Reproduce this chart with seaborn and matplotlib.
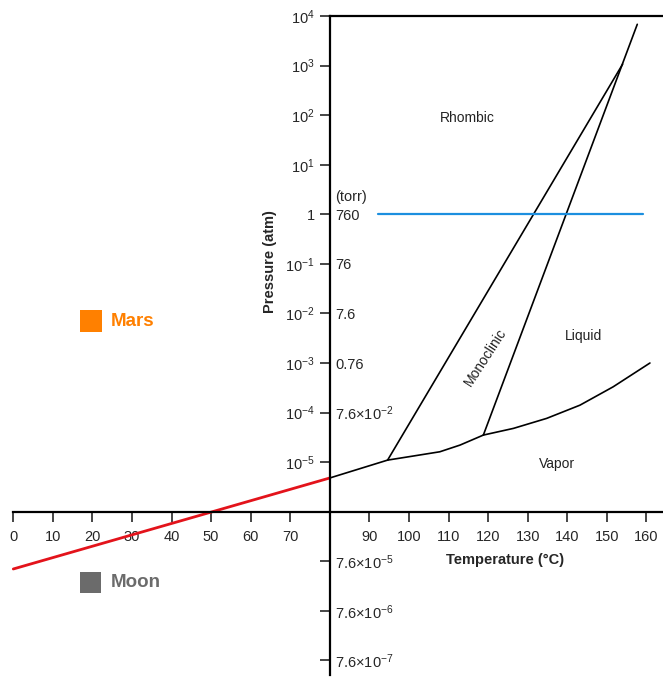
import numpy as np
import pandas as pd
import matplotlib
matplotlib.use("Agg")
import matplotlib.pyplot as plt
from matplotlib.ticker import NullLocator, FixedLocator, FixedFormatter
import seaborn as sns

# ---------------- data (temperatures in °C, pressures in atm) ----------------
red_T = [0, 80]
red_P = [7.0e-8, 4.8e-6]

rv_T = [80, 94.6]                      # rhombic - vapor
rv_P = [4.8e-6, 1.10e-5]

mv_T = [94.6, 101.1, 107.8, 112.9, 118.8]  # monoclinic - vapor
mv_P = [1.10e-5, 1.33e-5, 1.62e-5, 2.21e-5, 3.52e-5]

lv_T = [118.8, 126.4, 134.8, 143.2, 151.6, 160.9]   # liquid - vapor
lv_P = [3.52e-5, 4.80e-5, 7.64e-5, 1.41e-4, 3.31e-4, 1.0e-3]

rm_T = [94.6, 154]                     # rhombic - monoclinic
rm_P = [1.10e-5, 1.07e3]

ml_T = [118.8, 157.7]                  # monoclinic - liquid
ml_P = [3.52e-5, 6.8e3]

blue_T = [92.2, 159.2]
blue_P = [1.0, 1.0]

x_ticks = [0, 10, 20, 30, 40, 50, 60, 70, 90, 100, 110, 120, 130, 140, 150, 160]
atm_ticks = [1e4, 1e3, 1e2, 1e1, 1, 1e-1, 1e-2, 1e-3, 1e-4, 1e-5, 1e-7, 1e-8, 1e-9]
atm_labels = [r"$10^{4}$", r"$10^{3}$", r"$10^{2}$", r"$10^{1}$", "1",
              r"$10^{-1}$", r"$10^{-2}$", r"$10^{-3}$", r"$10^{-4}$", r"$10^{-5}$",
              "", "", ""]
torr_ticks = [1, 1e-1, 1e-2, 1e-3, 1e-4, 1e-7, 1e-8, 1e-9]
torr_labels = ["760", "76", "7.6", "0.76", r"$7.6{\times}10^{-2}$",
               r"$7.6{\times}10^{-5}$", r"$7.6{\times}10^{-6}$", r"$7.6{\times}10^{-7}$"]

bodies = ["Mars", "Moon"]
body_T = [19.6, 19.5]
body_P = [7.0e-3, 3.7e-8]
body_colors = ["#ff8000", "#6b6b6b"]

phase_labels = ["Rhombic", "Liquid", "Vapor", "Monoclinic"]
phase_T = [114.8, 144.0, 137.3, 119.4]
phase_P = [8.7e1, 3.5e-3, 9.1e-6, 1.33e-3]
phase_rot = [0, 0, 0, 57]

# ---------------- style ----------------
sns.set_style("white")
plt.rcParams["font.family"] = ["Liberation Sans", "DejaVu Sans"]
plt.rcParams["mathtext.fontset"] = "custom"
plt.rcParams["mathtext.rm"] = "Liberation Sans"
plt.rcParams["mathtext.it"] = "Liberation Sans:italic"
plt.rcParams["mathtext.bf"] = "Liberation Sans:bold"
plt.rcParams["axes.unicode_minus"] = True

fig = plt.figure(figsize=(6.63, 6.78), dpi=100)
ax = fig.add_axes([0, 0, 1, 662 / 678])

xmin, xmax = -3.36, 164.2
ymin, ymax = 10 ** -9.354, 1e4
ax.set_yscale("log")

def seg(T, P, color, lw):
    df = pd.DataFrame({"T": T, "P": P})
    sns.lineplot(data=df, x="T", y="P", ax=ax, color=color, lw=lw,
                 sort=False, estimator=None, legend=False)

seg(red_T, red_P, "#e3131b", 2.0)
seg(rv_T, rv_P, "black", 1.2)
seg(mv_T, mv_P, "black", 1.2)
seg(lv_T, lv_P, "black", 1.2)
seg(rm_T, rm_P, "black", 1.2)
seg(ml_T, ml_P, "black", 1.2)
seg(blue_T, blue_P, "#1c8fdf", 1.6)

bdf = pd.DataFrame({"T": body_T, "P": body_P, "body": bodies})
sns.scatterplot(data=bdf, x="T", y="P", hue="body", palette=body_colors,
                marker="s", s=240, linewidth=0, ax=ax, legend=False)
for name, t, p, c in zip(bodies, body_T, body_P, body_colors):
    ax.annotate(name, xy=(t, p), xytext=(20, 0), textcoords="offset pixels",
                ha="left", va="center", fontsize=13.5, fontweight="bold", color=c)

for lab, t, p, r in zip(phase_labels, phase_T, phase_P, phase_rot):
    ax.text(t, p, lab, ha="center", va="center", rotation=r, fontsize=10,
            color="#222222", rotation_mode="anchor")

ax.set_xlim(xmin, xmax)
ax.set_ylim(ymin, ymax)

# spines
for s in ["left", "bottom", "top"]:
    ax.spines[s].set_linewidth(1.6)
    ax.spines[s].set_color("black")
ax.spines["right"].set_visible(False)
ax.spines["left"].set_position(("data", 80))
ax.spines["bottom"].set_position(("data", 1e-6))
ax.spines["left"].set_bounds(10 ** -9.3, 1e4)
ax.spines["bottom"].set_bounds(0, xmax)
ax.spines["top"].set_bounds(80, xmax)

ax.xaxis.set_major_locator(FixedLocator(x_ticks))
ax.xaxis.set_major_formatter(FixedFormatter([str(v) for v in x_ticks]))
ax.xaxis.set_minor_locator(NullLocator())
ax.yaxis.set_major_locator(FixedLocator(atm_ticks))
ax.yaxis.set_major_formatter(FixedFormatter(atm_labels))
ax.yaxis.set_minor_locator(NullLocator())
ax.tick_params(axis="x", direction="out", length=7, width=1.2, pad=6,
               labelsize=10.5, bottom=True, top=False)
ax.tick_params(axis="y", direction="out", length=7, width=1.2, pad=4,
               labelsize=10.5, left=True, right=False)

ax.set_xlabel("Temperature (°C)", fontsize=10.5, fontweight="bold")
ax.xaxis.set_label_coords(505 / 663, (678 - 560) / 662)
ax.xaxis.label.set_va("center")
ax.set_ylabel("Pressure (atm)", fontsize=10.5, fontweight="bold")
ax.yaxis.set_label_coords(270 / 663, (678 - 262) / 662)
ax.yaxis.label.set_va("center")

# torr labels to the right of the pressure axis
ax2 = ax.twinx()
ax2.set_yscale("log")
ax2.set_ylim(ymin, ymax)
for s in ax2.spines.values():
    s.set_visible(False)
ax2.spines["right"].set_position(("data", 80))
ax2.yaxis.set_major_locator(FixedLocator(torr_ticks))
ax2.yaxis.set_major_formatter(FixedFormatter(torr_labels))
ax2.yaxis.set_minor_locator(NullLocator())
ax2.tick_params(axis="y", length=0, pad=4, labelsize=10.5)
ax.annotate("(torr)", xy=(80, 1), xytext=(5, 17), textcoords="offset pixels",
            ha="left", va="center", fontsize=10.5)

fig.savefig("out.png", dpi=100)
